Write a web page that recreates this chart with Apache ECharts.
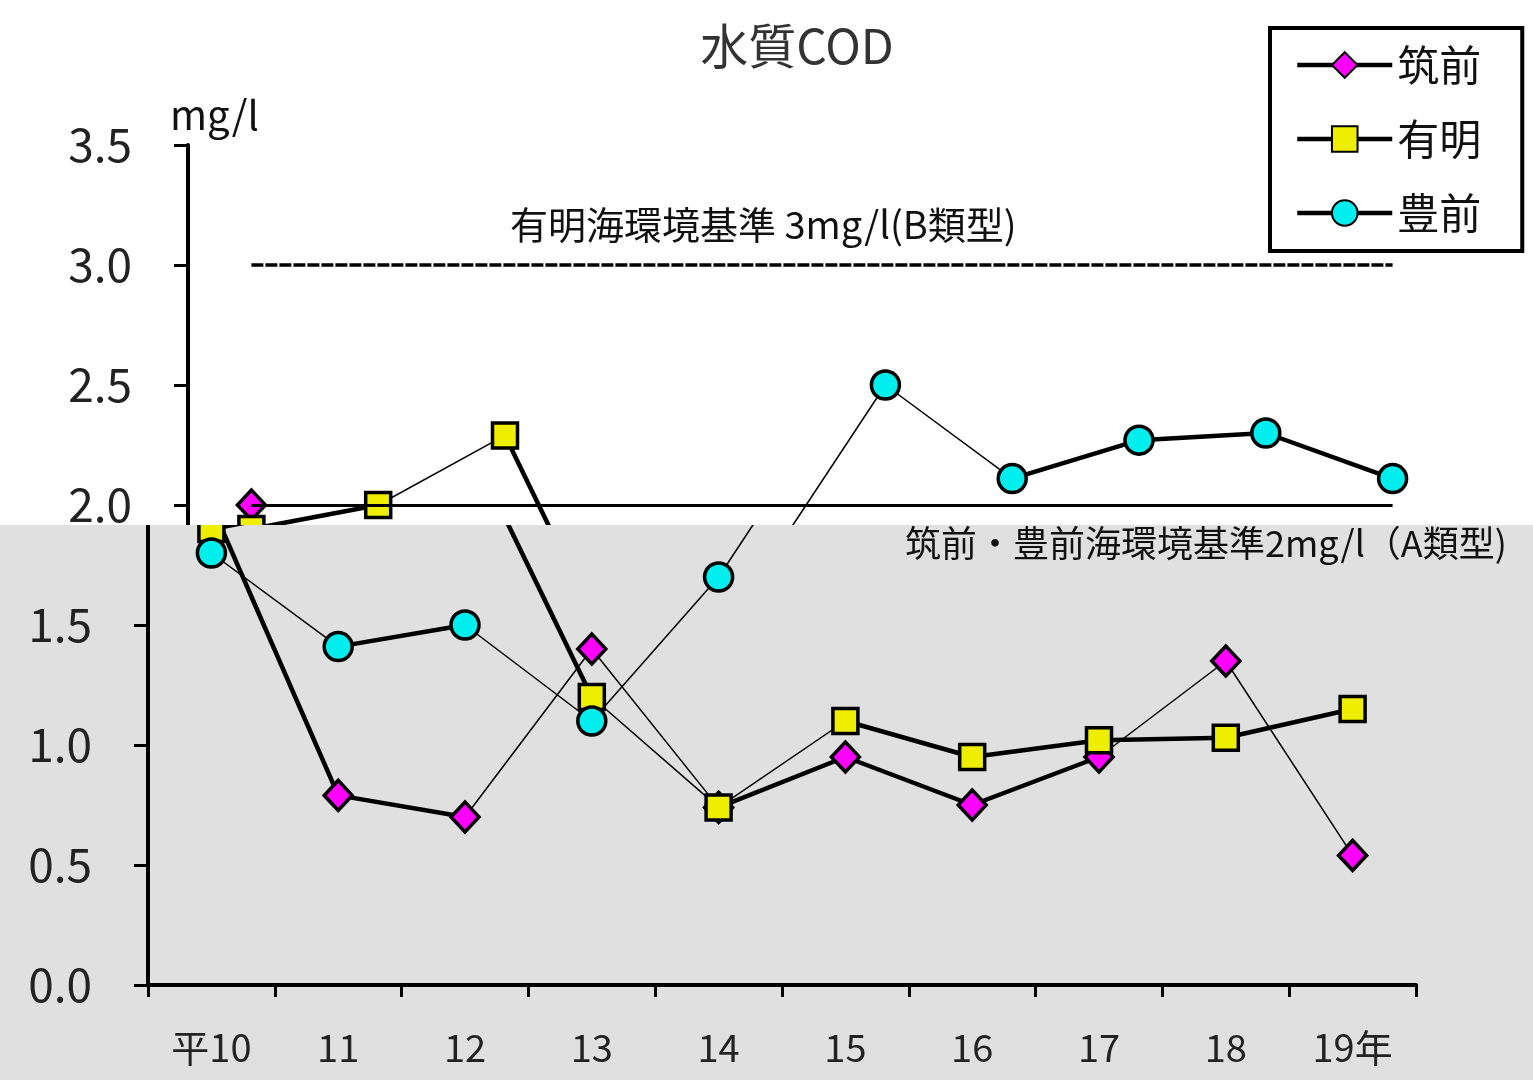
<!DOCTYPE html>
<html><head><meta charset="utf-8">
<script src="https://cdn.jsdelivr.net/npm/echarts@6/dist/echarts.min.js"></script>
<style>
html,body{margin:0;padding:0;width:1533px;height:1080px;overflow:hidden;background:#fff;}
#topWrap{position:absolute;left:0;top:0;width:1533px;height:525px;overflow:hidden;background:#fff;}
#botWrap{position:absolute;left:0;top:525px;width:1533px;height:555px;overflow:hidden;background:#e0e0e0;}
#c1{position:absolute;left:0;top:0;width:1533px;height:1080px;}
#c2{position:absolute;left:0;top:-525px;width:1533px;height:1080px;}
</style></head><body>
<div id="topWrap"><div id="c1"></div></div>
<div id="botWrap"><div id="c2"></div></div>
<script>
// ---- data ----
const years = ['平10','11','12','13','14','15','16','17','18','19年'];
const chikuzen = [2.00, 0.79, 0.70, 1.40, 0.74, 0.95, 0.75, 0.95, 1.35, 0.54];
const ariake   = [1.90, 2.00, 2.29, 1.20, 0.74, 1.10, 0.95, 1.02, 1.03, 1.15];
const buzen    = [1.80, 1.41, 1.50, 1.10, 1.70, 2.50, 2.11, 2.27, 2.30, 2.11];
const ariakeStd = 3;     // 有明海環境基準 3mg/l
const chikuzenStd = 2;   // 筑前・豊前海環境基準 2mg/l
const yMin = 0, yMax = 3.5, yStep = 0.5;

// ---- style: segments drawn with a heavy line (index i = segment i -> i+1) ----
const thickSegments = { '筑前': [0,1,4,5,6], '有明': [0,2,5,6,7,8], '豊前': [1,6,7,8] };

const FONT = "'Noto Sans CJK JP', sans-serif";

function buildOption(gridLeft) {
  const defs = [
    {name:'筑前', data:chikuzen, symbol:'diamond', size:[28,30], color:'#ff00ff'},
    {name:'有明', data:ariake,   symbol:'rect',    size:25,      color:'#eeee00'},
    {name:'豊前', data:buzen,    symbol:'circle',  size:28,      color:'#00eeee'}
  ];
  const last = years[years.length-1];
  const series = [];
  series.push({type:'line', data:[], silent:true, z:1,
    markLine:{symbol:'none', silent:true, animation:false, label:{show:false},
      lineStyle:{type:[12,2], width:3.5, color:'#000'},
      data:[[{coord:[years[0], ariakeStd]},{coord:[last, ariakeStd]}]]}});
  series.push({type:'line', data:[], silent:true, z:1,
    markLine:{symbol:'none', silent:true, animation:false, label:{show:false},
      lineStyle:{type:'solid', width:3, color:'#000'},
      data:[[{coord:[years[0], chikuzenStd]},{coord:[last, chikuzenStd]}]]}});
  defs.forEach(d => {
    thickSegments[d.name].forEach(i => {
      series.push({type:'line', silent:true, z:2, symbol:'none', showSymbol:false,
        data: d.data.map((v,k) => (k===i || k===i+1) ? v : '-'),
        lineStyle:{color:'#000', width:4.5}, emphasis:{disabled:true}});
    });
  });
  defs.forEach((d,idx) => {
    series.push({type:'line', name:d.name, data:d.data, z:3+idx,
      symbol:d.symbol, symbolSize:d.size, showSymbol:true, showAllSymbol:true,
      lineStyle:{color:'#000', width:1.5},
      itemStyle:{color:d.color, borderColor:'#000', borderWidth:3.5},
      emphasis:{disabled:true}});
  });
  return {
    animation:false,
    backgroundColor:'transparent',
    grid:{left:gridLeft, top:145, width:1268, height:840, outerBoundsMode:'none', containLabel:false},
    xAxis:{type:'category', data:years, boundaryGap:true,
      axisLine:{show:true, lineStyle:{color:'#000', width:4}},
      axisTick:{show:true, inside:false, length:12, lineStyle:{color:'#000', width:3}},
      axisLabel:{interval:0, margin:44, fontSize:38, fontFamily:FONT, color:'#222'},
      splitLine:{show:false}},
    yAxis:{type:'value', min:yMin, max:yMax, interval:yStep,
      axisLine:{show:true, lineStyle:{color:'#000', width:4}},
      axisTick:{show:true, inside:false, length:14, lineStyle:{color:'#000', width:3}},
      axisLabel:{margin:56, fontSize:46, fontFamily:FONT, color:'#222', formatter:v => v.toFixed(1)},
      splitLine:{show:false}},
    legend:{data:['筑前','有明','豊前'], orient:'vertical', left:1270, top:28,
      padding:[13,41,14,25], itemGap:26, itemWidth:95, itemHeight:32,
      borderColor:'#000', borderWidth:4, backgroundColor:'#fff',
      lineStyle:{color:'#000', width:4.5},
      textStyle:{fontSize:42, lineHeight:48, fontFamily:FONT, color:'#111'},
      selectedMode:false},
    graphic:[
      {type:'text', x:797, y:46, style:{text:'水質COD', fontSize:48, fontFamily:FONT, fill:'#333', align:'center', verticalAlign:'middle'}},
      {type:'text', x:170, y:115, style:{text:'mg/l', fontSize:40, fontFamily:FONT, fill:'#111', align:'left', verticalAlign:'middle'}},
      {type:'text', x:510, y:225, style:{text:'有明海環境基準 3mg/l(B類型)', fontSize:38, fontFamily:FONT, fill:'#111', align:'left', verticalAlign:'middle'}},
      {type:'text', x:905, y:543, style:{text:'筑前・豊前海環境基準2mg/l（A類型)', fontSize:36, fontFamily:FONT, fill:'#111', align:'left', verticalAlign:'middle'}}
    ],
    series:series
  };
}

const chartTop = echarts.init(document.getElementById('c1'), null, {renderer:'canvas'});
chartTop.setOption(buildOption(188));
const chartBot = echarts.init(document.getElementById('c2'), null, {renderer:'canvas'});
chartBot.setOption(buildOption(148));
</script>
</body></html>
